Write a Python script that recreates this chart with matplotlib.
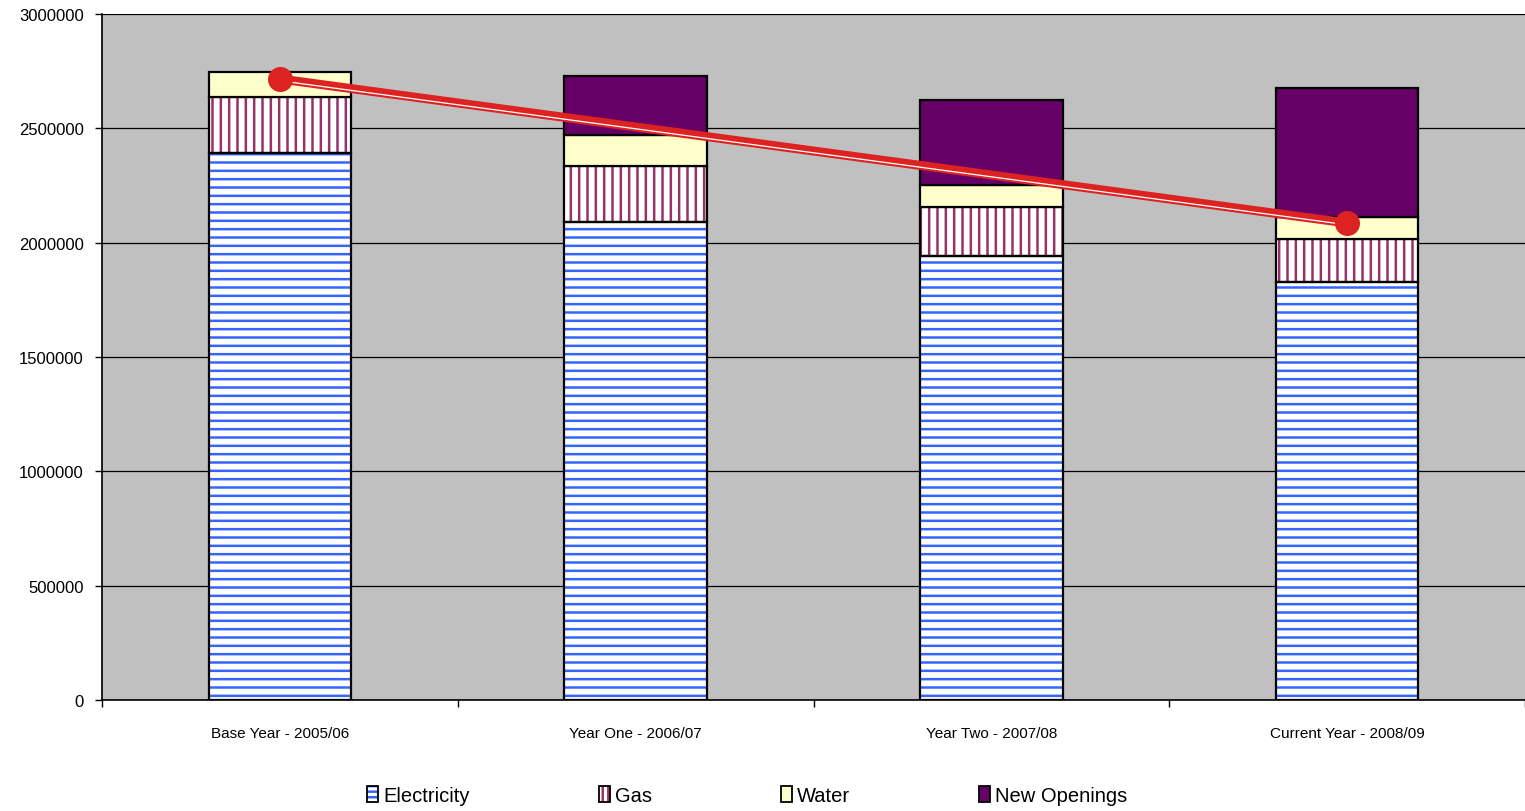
import matplotlib
matplotlib.use("Agg")
import matplotlib.pyplot as plt
import matplotlib.transforms as mtransforms
from matplotlib.patches import Patch
from matplotlib.legend_handler import HandlerTuple
import numpy as np

plt.rcParams['font.family'] = ['Liberation Sans', 'DejaVu Sans']
plt.rcParams['hatch.linewidth'] = 1.8

# Energy usage by year, stacked
categories = ['Base Year - 2005/06', 'Year One - 2006/07',
              'Year Two - 2007/08', 'Current Year - 2008/09']
electricity = [2392000, 2090000, 1940000, 1828000]
gas = [245000, 245000, 216000, 188000]
water = [109000, 136000, 96000, 96000]
new_openings = [0, 258000, 372000, 564000]

# trend line between base year and current year
trend_categories = ['Base Year - 2005/06', 'Current Year - 2008/09']
trend_values = [2716000, 2086000]

series = [
    ('Electricity', electricity, 'white', '#3366FF', '--'),
    ('Gas', gas, 'white', '#993366', '||'),
    ('Water', water, '#FFFFCC', None, None),
    ('New Openings', new_openings, '#660066', None, None),
]

fig = plt.figure(figsize=(15.25, 8.12), dpi=100)
ax = fig.add_axes([0.0669, 0.1367, 0.9331, 0.8448])
ax.set_facecolor('#C0C0C0')

x = np.arange(len(categories))
width = 0.4
bottom = np.zeros(len(categories))
handles = []
for name, vals, face, hatch_col, hatch in series:
    vals = np.array(vals, dtype=float)
    if hatch:
        # hatch takes the edge colour, so draw the pattern first and the outline on top
        ax.bar(x, vals, width, bottom=bottom, color=face, edgecolor=hatch_col,
               hatch=hatch, linewidth=0, zorder=2)
        h = (Patch(facecolor=face, edgecolor=hatch_col, hatch=hatch[0] * 3, linewidth=0),
             Patch(facecolor='none', edgecolor='black', linewidth=1.3))
    else:
        h = Patch(facecolor=face, edgecolor='black', linewidth=1.3)
    mask = vals > 0
    ax.bar(x[mask], vals[mask], width, bottom=bottom[mask],
           color=face if not hatch else 'none',
           edgecolor='black', linewidth=1.6, zorder=3)
    handles.append(h)
    bottom += vals

# trend line: thick red with a thin white inner stripe
tx = [categories.index(c) for c in trend_categories]
ax.plot(tx, trend_values, color='#DD2222', lw=6.5, zorder=4,
        solid_capstyle='butt')
shifted = mtransforms.offset_copy(ax.transData, fig=fig, x=0, y=-1.3, units='points')
ax.plot(tx, trend_values, color='white', lw=0.9, zorder=5, transform=shifted)
ax.plot(tx, trend_values, ls='none', marker='o', ms=17, color='#DD2222',
        zorder=6)

ax.set_xlim(-0.5, 3.5)
ax.set_ylim(0, 3000000)
ax.set_yticks(np.arange(0, 3000001, 500000))
ax.set_yticklabels([str(v) for v in range(0, 3000001, 500000)], fontsize=12)
ax.yaxis.grid(True, color='black', lw=0.9)
ax.set_axisbelow(True)

ax.set_xticks(x)
ax.set_xticklabels(categories, fontsize=11)
ax.set_xticks(np.arange(-0.5, 4, 1), minor=True)
ax.tick_params(axis='x', which='major', length=0, pad=19)
ax.tick_params(axis='x', which='minor', length=5, width=1, color='black')
ax.tick_params(axis='y', length=5, width=1, color='black', pad=8)

for side in ['top', 'right']:
    ax.spines[side].set_visible(False)
ax.spines['left'].set_linewidth(1.2)
ax.spines['bottom'].set_linewidth(1.2)

fig.legend(handles, [s[0] for s in series], ncol=4, frameon=False,
           loc='center', bbox_to_anchor=(0.49, 0.019), fontsize=14.5,
           handler_map={tuple: HandlerTuple(ndivide=1, pad=0)},
           handlelength=0.55, handleheight=0.8, handletextpad=0.25,
           columnspacing=6.4)

fig.savefig('out.png', dpi=100)
